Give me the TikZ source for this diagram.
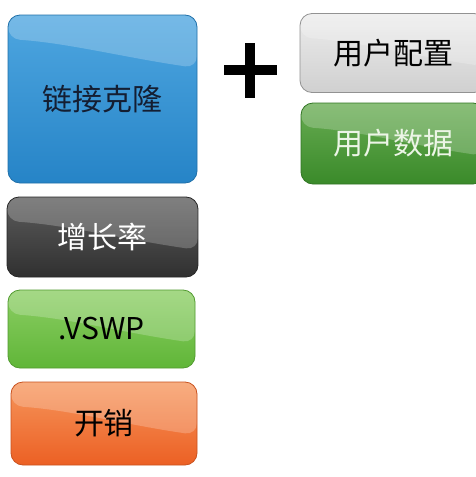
\documentclass[tikz,border=0pt]{standalone}
\usepackage{fontspec}
\setmainfont{Noto Sans CJK SC}
\usepackage{tikz}
\usetikzlibrary{calc}

\definecolor{blueTop}{RGB}{78,166,224}
\definecolor{blueBot}{RGB}{38,132,199}
\definecolor{darkTop}{RGB}{92,92,92}
\definecolor{darkBot}{RGB}{48,48,48}
\definecolor{limeTop}{RGB}{140,206,100}
\definecolor{limeBot}{RGB}{96,182,56}
\definecolor{orngTop}{RGB}{246,150,92}
\definecolor{orngBot}{RGB}{236,96,36}
\definecolor{greyTop}{RGB}{236,236,236}
\definecolor{greyBot}{RGB}{208,208,208}
\definecolor{grnTop}{RGB}{104,172,82}
\definecolor{grnBot}{RGB}{58,138,42}

\begin{document}
\begin{tikzpicture}[x=1pt, y=1pt,
    btn/.style={rounded corners=12pt, inner sep=0pt, line width=0.8pt,
      font=\fontsize{30pt}{36pt}\selectfont,
      path picture={\fill[white, opacity=0.22]
        (path picture bounding box.north west) -- (path picture bounding box.north east)
        -- ([yshift=-53pt]path picture bounding box.north east)
        .. controls +(-70pt,10pt) and +(60pt,-4pt) ..
        ([yshift=-24pt]path picture bounding box.north west) -- cycle;}},
    paint/.style 2 args={top color=#1Top, bottom color=#1Bot, draw=#1Bot!#2!black}]
  \useasboundingbox[fill=white] (0,0) rectangle (476,-477);

  % left column
  \node[btn, paint={blue}{85}, minimum width=189pt, minimum height=168pt,
    text={rgb,255:red,20;green,30;blue,50}] (clone) at (102.5,-99) {链接克隆};
  \node[btn, paint={dark}{80}, minimum width=191pt, minimum height=80pt,
    text=white] (growth) at (102.5,-237) {增长率};
  \node[btn, paint={lime}{85}, minimum width=187pt, minimum height=78pt,
    text=black] (vswp) at (101.5,-329) {.VSWP};
  \node[btn, paint={orng}{85}, minimum width=186pt, minimum height=83pt,
    text=black] (cost) at (104,-423.5) {开销};

  % plus
  \draw[line width=10pt] (224,-70) -- (277,-70);
  \draw[line width=10pt] (250,-43) -- (250,-98);

  % right column
  \node[btn, paint={grey}{70}, minimum width=186pt, minimum height=79pt,
    text=black] (config) at (393,-53) {用户配置};
  \node[btn, paint={grn}{85}, minimum width=184pt, minimum height=81pt,
    text={rgb,255:red,236;green,245;blue,230}] (data) at (393,-143.5) {用户数据};
\end{tikzpicture}
\end{document}
